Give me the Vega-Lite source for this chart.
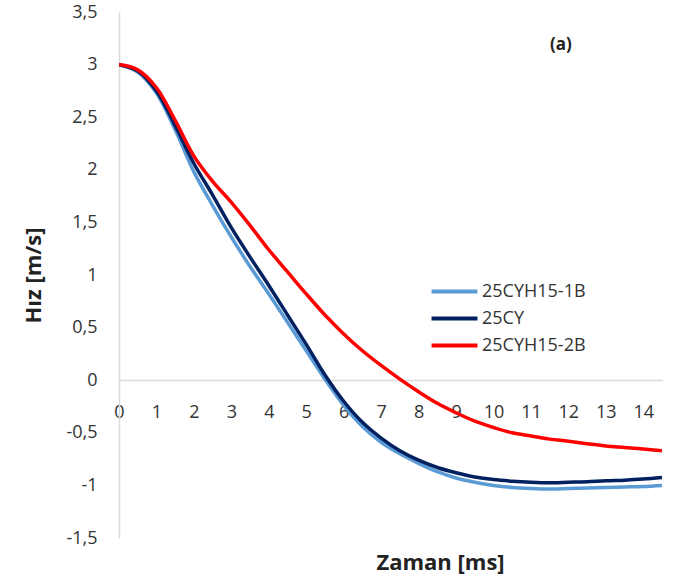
{
  "$schema": "https://vega.github.io/schema/vega-lite/v6.json",
  "autosize": {"type": "none"},
  "width": 543,
  "height": 526,
  "padding": {"left": 119, "top": 12, "right": 21, "bottom": 46},
  "background": "white",
  "config": {
    "font": "Open Sans",
    "view": {"stroke": null}
  },
  "encoding": {
    "x": {
      "field": "t", "type": "quantitative",
      "scale": {"domain": [0, 14.5], "nice": false, "zero": false},
      "axis": {
        "values": [0, 1, 2, 3, 4, 5, 6, 7, 8, 9, 10, 11, 12, 13, 14],
        "labelOverlap": false,
        "offset": -158,
        "grid": false,
        "ticks": false,
        "tickSize": 0,
        "labelPadding": 23,
        "labelFontSize": 18,
        "labelColor": "#333333",
        "labelFlush": false,
        "domainColor": "#D9D9D9",
        "domainWidth": 1.5,
        "title": "Zaman [ms]",
        "titleFontSize": 22,
        "titleFontWeight": "bold",
        "titleColor": "#222222",
        "titleX": 321,
        "titleY": 182,
        "titleBaseline": "middle",
        "titleAlign": "center"
      }
    },
    "y": {
      "field": "v", "type": "quantitative",
      "scale": {"domain": [-1.5, 3.5], "nice": false, "zero": false},
      "axis": {
        "values": [-1.5, -1, -0.5, 0, 0.5, 1, 1.5, 2, 2.5, 3, 3.5],
        "labelExpr": "replace(toString(datum.value), '.', ',')",
        "labelOverlap": false,
        "grid": false,
        "ticks": false,
        "tickSize": 0,
        "labelPadding": 22,
        "labelFontSize": 18,
        "labelColor": "#333333",
        "labelFlush": false,
        "domainColor": "#D9D9D9",
        "domainWidth": 1.5,
        "title": "Hız [m/s]",
        "titleFontSize": 22,
        "titleFontWeight": "bold",
        "titleColor": "#222222",
        "titleX": -86,
        "titleY": 263,
        "titleBaseline": "middle",
        "titleAlign": "center",
        "titleAngle": -90
      }
    }
  },
  "layer": [
    {
      "data": {
        "values": [
          {"t": 0, "v": 3.0, "s": "25CYH15-1B"}, {"t": 0.5, "v": 2.93, "s": "25CYH15-1B"}, {"t": 1, "v": 2.73, "s": "25CYH15-1B"}, {"t": 1.5, "v": 2.38, "s": "25CYH15-1B"}, {"t": 2, "v": 1.98, "s": "25CYH15-1B"}, {"t": 2.5, "v": 1.66, "s": "25CYH15-1B"}, {"t": 3, "v": 1.36, "s": "25CYH15-1B"}, {"t": 3.5, "v": 1.08, "s": "25CYH15-1B"}, {"t": 4, "v": 0.82, "s": "25CYH15-1B"}, {"t": 4.5, "v": 0.55, "s": "25CYH15-1B"}, {"t": 5, "v": 0.28, "s": "25CYH15-1B"}, {"t": 5.5, "v": 0.01, "s": "25CYH15-1B"}, {"t": 6, "v": -0.24, "s": "25CYH15-1B"}, {"t": 6.5, "v": -0.44, "s": "25CYH15-1B"}, {"t": 7, "v": -0.59, "s": "25CYH15-1B"}, {"t": 7.5, "v": -0.7, "s": "25CYH15-1B"}, {"t": 8, "v": -0.79, "s": "25CYH15-1B"}, {"t": 8.5, "v": -0.87, "s": "25CYH15-1B"}, {"t": 9, "v": -0.93, "s": "25CYH15-1B"}, {"t": 9.5, "v": -0.97, "s": "25CYH15-1B"}, {"t": 10, "v": -1.0, "s": "25CYH15-1B"}, {"t": 10.5, "v": -1.02, "s": "25CYH15-1B"}, {"t": 11, "v": -1.03, "s": "25CYH15-1B"}, {"t": 11.5, "v": -1.035, "s": "25CYH15-1B"}, {"t": 12, "v": -1.03, "s": "25CYH15-1B"}, {"t": 12.5, "v": -1.025, "s": "25CYH15-1B"}, {"t": 13, "v": -1.02, "s": "25CYH15-1B"}, {"t": 13.5, "v": -1.015, "s": "25CYH15-1B"}, {"t": 14, "v": -1.01, "s": "25CYH15-1B"}, {"t": 14.5, "v": -1.0, "s": "25CYH15-1B"},
          {"t": 0, "v": 3.0, "s": "25CY"}, {"t": 0.5, "v": 2.94, "s": "25CY"}, {"t": 1, "v": 2.75, "s": "25CY"}, {"t": 1.5, "v": 2.42, "s": "25CY"}, {"t": 2, "v": 2.06, "s": "25CY"}, {"t": 2.5, "v": 1.76, "s": "25CY"}, {"t": 3, "v": 1.45, "s": "25CY"}, {"t": 3.5, "v": 1.17, "s": "25CY"}, {"t": 4, "v": 0.9, "s": "25CY"}, {"t": 4.5, "v": 0.62, "s": "25CY"}, {"t": 5, "v": 0.34, "s": "25CY"}, {"t": 5.5, "v": 0.05, "s": "25CY"}, {"t": 6, "v": -0.2, "s": "25CY"}, {"t": 6.5, "v": -0.4, "s": "25CY"}, {"t": 7, "v": -0.55, "s": "25CY"}, {"t": 7.5, "v": -0.67, "s": "25CY"}, {"t": 8, "v": -0.76, "s": "25CY"}, {"t": 8.5, "v": -0.83, "s": "25CY"}, {"t": 9, "v": -0.88, "s": "25CY"}, {"t": 9.5, "v": -0.92, "s": "25CY"}, {"t": 10, "v": -0.945, "s": "25CY"}, {"t": 10.5, "v": -0.96, "s": "25CY"}, {"t": 11, "v": -0.97, "s": "25CY"}, {"t": 11.5, "v": -0.975, "s": "25CY"}, {"t": 12, "v": -0.97, "s": "25CY"}, {"t": 12.5, "v": -0.965, "s": "25CY"}, {"t": 13, "v": -0.955, "s": "25CY"}, {"t": 13.5, "v": -0.95, "s": "25CY"}, {"t": 14, "v": -0.94, "s": "25CY"}, {"t": 14.5, "v": -0.925, "s": "25CY"},
          {"t": 0, "v": 3.0, "s": "25CYH15-2B"}, {"t": 0.5, "v": 2.95, "s": "25CYH15-2B"}, {"t": 1, "v": 2.78, "s": "25CYH15-2B"}, {"t": 1.5, "v": 2.47, "s": "25CYH15-2B"}, {"t": 2, "v": 2.13, "s": "25CYH15-2B"}, {"t": 2.5, "v": 1.89, "s": "25CYH15-2B"}, {"t": 3, "v": 1.69, "s": "25CYH15-2B"}, {"t": 3.5, "v": 1.47, "s": "25CYH15-2B"}, {"t": 4, "v": 1.24, "s": "25CYH15-2B"}, {"t": 4.5, "v": 1.03, "s": "25CYH15-2B"}, {"t": 5, "v": 0.82, "s": "25CYH15-2B"}, {"t": 5.5, "v": 0.62, "s": "25CYH15-2B"}, {"t": 6, "v": 0.44, "s": "25CYH15-2B"}, {"t": 6.5, "v": 0.28, "s": "25CYH15-2B"}, {"t": 7, "v": 0.14, "s": "25CYH15-2B"}, {"t": 7.5, "v": 0.01, "s": "25CYH15-2B"}, {"t": 8, "v": -0.11, "s": "25CYH15-2B"}, {"t": 8.5, "v": -0.22, "s": "25CYH15-2B"}, {"t": 9, "v": -0.31, "s": "25CYH15-2B"}, {"t": 9.5, "v": -0.39, "s": "25CYH15-2B"}, {"t": 10, "v": -0.45, "s": "25CYH15-2B"}, {"t": 10.5, "v": -0.5, "s": "25CYH15-2B"}, {"t": 11, "v": -0.53, "s": "25CYH15-2B"}, {"t": 11.5, "v": -0.56, "s": "25CYH15-2B"}, {"t": 12, "v": -0.58, "s": "25CYH15-2B"}, {"t": 12.5, "v": -0.605, "s": "25CYH15-2B"}, {"t": 13, "v": -0.625, "s": "25CYH15-2B"}, {"t": 13.5, "v": -0.64, "s": "25CYH15-2B"}, {"t": 14, "v": -0.655, "s": "25CYH15-2B"}, {"t": 14.5, "v": -0.67, "s": "25CYH15-2B"}
        ]
      },
      "mark": {"type": "line", "interpolate": "catmull-rom", "strokeWidth": 3.5, "clip": true},
      "encoding": {
        "color": {
          "field": "s", "type": "nominal",
          "scale": {"domain": ["25CYH15-1B", "25CY", "25CYH15-2B"], "range": ["#5B9BD5", "#002060", "#FF0000"]},
          "legend": {
            "title": null,
            "orient": "none",
            "legendX": 320,
            "legendY": 264,
            "symbolType": "M-1.7,0H1.7",
            "symbolSize": 729,
            "symbolStrokeWidth": 4,
            "labelFontSize": 18,
            "labelColor": "#333333",
            "labelOffset": 12,
            "rowPadding": 2
          }
        }
      }
    },
    {
      "data": {"values": [{"t": 11.8, "v": 3.19, "label": "(a)"}]},
      "mark": {"type": "text", "fontSize": 17, "fontWeight": "bold", "color": "#222222", "align": "center", "baseline": "middle"},
      "encoding": {
        "text": {"field": "label"}
      }
    }
  ]
}
